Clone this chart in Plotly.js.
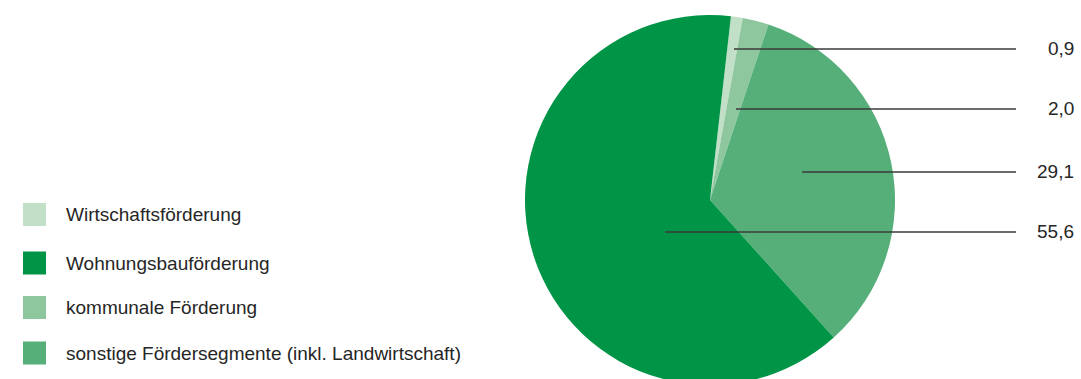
<!DOCTYPE html>
<html>
<head>
<meta charset="utf-8">
<script src="https://cdn.plot.ly/plotly-3.0.1.min.js"></script>
<style>
html,body{margin:0;padding:0;overflow:hidden;background:#fff;}
#chart{width:1081px;height:385px;}
</style>
</head>
<body>
<div id="chart"></div>
<script>
// Slice order (clockwise from just right of 12 o'clock)
const sliceLabels = ['Wirtschaftsförderung', 'kommunale Förderung', 'sonstige Fördersegmente (inkl. Landwirtschaft)', 'Wohnungsbauförderung'];
const sliceValues = [0.9, 2.0, 29.1, 55.6];
const valueTexts = ['0,9', '2,0', '29,1', '55,6'];
// Legend order as shown
const legendLabels = ['Wirtschaftsförderung', 'Wohnungsbauförderung', 'kommunale Förderung', 'sonstige Fördersegmente (inkl. Landwirtschaft)'];
const colorMap = {
  'Wirtschaftsförderung': '#c1e0c7',
  'Wohnungsbauförderung': '#009446',
  'kommunale Förderung': '#8ec69d',
  'sonstige Fördersegmente (inkl. Landwirtschaft)': '#56af78'
};

const W = 1081, H = 385;
const px = x => x / W;
const py = y => (H - y) / H;
const FONT = 'Liberation Sans, Arial, sans-serif';

// layout positions for leader lines (pixel) and legend rows
const leaderStartX = [734, 736, 802, 665];
const leaderY = [49, 109, 172, 232];
const leaderEndX = 1016;
const labelRightX = 1076;
const legendRowY = [214.5, 263, 307.5, 353];

const trace = {
  type: 'pie',
  labels: sliceLabels,
  values: sliceValues,
  sort: false,
  direction: 'clockwise',
  rotation: 6.5,
  textinfo: 'none',
  hoverinfo: 'label+value',
  showlegend: false,
  marker: {colors: sliceLabels.map(l => colorMap[l]), line: {width: 0}},
  domain: {x: [px(525), px(895)], y: [0, 370 / H]}
};

const shapes = [];
const annotations = [];
valueTexts.forEach((t, i) => {
  shapes.push({type: 'line', xref: 'paper', yref: 'paper',
    x0: px(leaderStartX[i]), x1: px(leaderEndX), y0: py(leaderY[i]), y1: py(leaderY[i]),
    line: {color: '#3a3a3a', width: 1.3}});
  annotations.push({xref: 'paper', yref: 'paper', x: px(labelRightX), y: py(leaderY[i] - 1),
    xanchor: 'right', yanchor: 'middle', showarrow: false, text: t,
    font: {family: FONT, size: 19, color: '#262626'}});
});
legendLabels.forEach((l, i) => {
  const yc = legendRowY[i];
  shapes.push({type: 'rect', xref: 'paper', yref: 'paper',
    x0: px(23), x1: px(46), y0: py(yc - 11.5), y1: py(yc + 11.5),
    fillcolor: colorMap[l], line: {width: 0}});
  annotations.push({xref: 'paper', yref: 'paper', x: px(64), y: py(yc),
    xanchor: 'left', yanchor: 'middle', showarrow: false, text: l,
    font: {family: FONT, size: 19, color: '#262626'}});
});

const layout = {
  width: W, height: H,
  margin: {l: 0, r: 0, t: 0, b: 0},
  paper_bgcolor: '#fff',
  showlegend: false,
  shapes: shapes,
  annotations: annotations
};

Plotly.newPlot('chart', [trace], layout, {displayModeBar: false, staticPlot: true});
</script>
</body>
</html>
